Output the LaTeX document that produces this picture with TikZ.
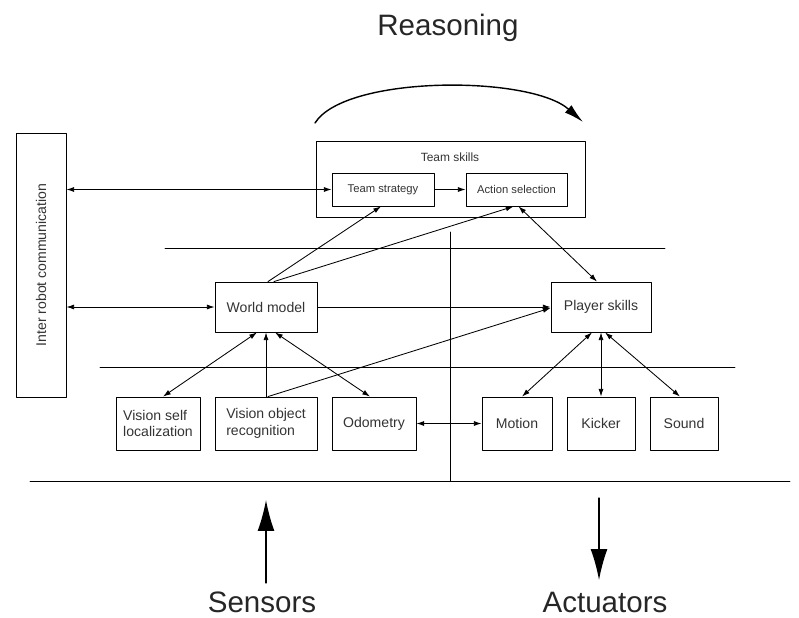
\documentclass[tikz,border=0pt]{standalone}
\usepackage{fontspec}
\setmainfont{Liberation Sans}
\usetikzlibrary{arrows.meta}
\begin{document}
\begin{tikzpicture}[x=0.025cm,y=-0.025cm,line cap=round,line join=round,
  box/.style={draw,line width=0.6pt,inner sep=1pt,align=center,text=black!80,
    font=\fontsize{10}{12}\selectfont,minimum height=12.5mm},
  subbox/.style={draw,line width=0.6pt,inner sep=1pt,text=black!80,
    font=\fontsize{8}{9}\selectfont,minimum height=8.25mm},
  link/.style={line width=0.6pt,-{Latex[length=5.5pt,width=3.6pt]}},
  both/.style={line width=0.6pt,{Latex[length=5.5pt,width=3.6pt]}-{Latex[length=5.5pt,width=3.6pt]}},
  bigarrow/.style={line width=0.9pt,-{Latex[length=22pt,width=12pt]}},
  title/.style={inner sep=0pt,text=black!85,font=\fontsize{21}{24}\selectfont}]
  \useasboundingbox (0,0) rectangle (799,617);
  % layer lines
  \draw[line width=0.6pt] (165,248) -- (665,248);
  \draw[line width=0.6pt] (100,367) -- (735,367);
  \draw[line width=0.6pt] (450,232) -- (450,481);
  \draw[line width=0.6pt] (30,481) -- (790,481);
  % boxes
  \node[box,minimum width=67.25mm,minimum height=19mm] (team) at (450.5,179) {};
  \node[text=black!80,font=\fontsize{8.5}{10}\selectfont] (teamlbl) at (450,157) {Team skills};
  \node[subbox,minimum width=25.5mm] (tstrat) at (383,189.5) {Team strategy};
  \node[subbox,minimum width=25.25mm] (asel) at (516.5,189.5) {Action selection};
  \node[box,rotate=90,minimum width=66mm] (irc) at (41,265) {Inter robot communication};
  \node[box,minimum width=25.5mm] (world) at (266,307) {World model};
  \node[box,minimum width=25mm] (player) at (601,307) {Player skills};
  \node[box,align=left,minimum width=21mm,minimum height=13.25mm] (vself) at (158,423.5) {Vision self\\localization};
  \node[box,align=left,minimum width=25.5mm,minimum height=13.25mm] (vobj) at (266,423.5) {Vision object\\recognition};
  \node[box,minimum width=21mm,minimum height=13.25mm] (odo) at (374,423.5) {Odometry};
  \node[box,minimum width=17.5mm,minimum height=13.25mm] (motion) at (517,423.5) {Motion};
  \node[box,minimum width=17mm,minimum height=13.25mm] (kicker) at (601,423.5) {Kicker};
  \node[box,minimum width=17mm,minimum height=13.25mm] (sound) at (684,423.5) {Sound};
  % connectors
  \draw[both] (irc.south |- tstrat.west) -- (tstrat.west);
  \draw[link] (tstrat) -- (asel);
  \draw[both] (irc.south |- world.west) -- (world.west);
  \draw[link] (world) -- (player);
  \draw[link] ([shift={(2,0)}]world.north) -- ([shift={(-2,0)}]tstrat.south);
  \draw[link] ([shift={(8,0)}]world.north) -- ([shift={(-3,0)}]asel.south);
  \draw[both] ([shift={(2,0)}]asel.south) -- ([shift={(-4,0)}]player.north);
  \draw[link] ([shift={(2,0)}]vobj.north) -- ([shift={(0,1)}]player.west);
  \draw[both] ([shift={(-9,0)}]world.south) -- ([shift={(5,0)}]vself.north);
  \draw[link] (vobj.north) -- (world.south);
  \draw[both] ([shift={(9,0)}]world.south) -- ([shift={(-4,0)}]odo.north);
  \draw[both] (odo) -- (motion);
  \draw[both] ([shift={(-9,0)}]player.south) -- ([shift={(5,0)}]motion.north);
  \draw[both] (kicker.north |- player.south) -- (kicker.north);
  \draw[both] ([shift={(4,0)}]player.south) -- ([shift={(-4,0)}]sound.north);
  % reasoning, sensors, actuators
  \node[title] (reason) at (448,28) {Reasoning};
  \coordinate (r0) at (315,123);
  \coordinate (r1) at (583,122);
  \draw[line width=1pt,-{Latex[length=14pt,width=7pt]}] (r0) .. controls (345,75) and (530,75) .. (r1);
  \node[title] (sensors) at (262,602) {Sensors};
  \node[title] (actuators) at (605,602) {Actuators};
  \coordinate (s0) at (266,583);
  \coordinate (s1) at (266,500);
  \coordinate (a0) at (599,498);
  \coordinate (a1) at (599,580);
  \draw[bigarrow] (s0) -- (s1);
  \draw[bigarrow] (a0) -- (a1);
\end{tikzpicture}
\end{document}
